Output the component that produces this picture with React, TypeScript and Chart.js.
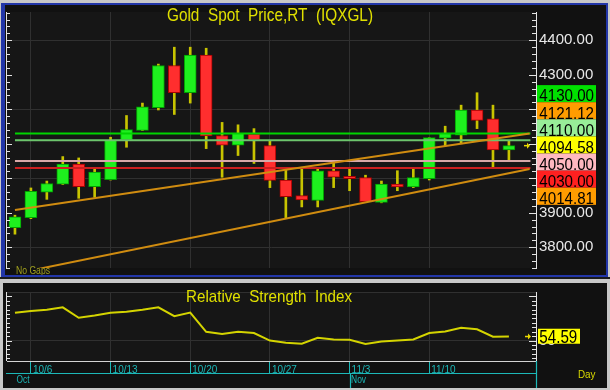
import React, { useEffect, useRef } from 'react';
import { Chart, registerables } from 'chart.js';

Chart.register(...registerables);

// ---------- data ----------
const opens = [3857, 3886, 3960, 3983, 4041, 3976, 3996, 4112, 4139, 4205, 4327, 4248, 4357, 4124, 4096, 4128, 4095, 3995, 3950, 3936, 4022, 4006, 4002, 3930, 3983, 3975, 3999, 4116, 4125, 4198, 4172, 4082];
const highs = [3893, 3972, 3992, 4063, 4059, 4027, 4119, 4182, 4218, 4331, 4380, 4380, 4377, 4162, 4155, 4144, 4110, 4025, 4032, 4030, 4046, 4029, 4009, 3992, 4022, 4029, 4118, 4151, 4212, 4248, 4212, 4110];
const lows = [3838, 3883, 3939, 3982, 3942, 3945, 3995, 4090, 4138, 4198, 4185, 4218, 4086, 4003, 4066, 4043, 3973, 3885, 3917, 3917, 3973, 3964, 3931, 3929, 3964, 3973, 3995, 4094, 4100, 4144, 4032, 4052];
const closes = [3888, 3962, 3985, 4041, 3976, 4018, 4110, 4141, 4207, 4327, 4248, 4357, 4123, 4096, 4130, 4112, 3994, 3947, 3937, 4022, 4003, 3999, 3932, 3983, 3975, 4002, 4118, 4130, 4198, 4168, 4082, 4094.58];
const rsiValues = [81.3, 83.4, 84.7, 87.5, 75.8, 78.2, 81.3, 82.6, 84.7, 87.5, 77.5, 81.6, 59.9, 57.5, 59.9, 58.6, 50.0, 47.5, 46.5, 53.1, 51.3, 51.0, 46.2, 49.0, 50.0, 51.3, 58.6, 60.3, 64.5, 62.7, 54.4, 54.59];

const weekTickIdx = [1, 6, 11, 16, 21, 26];
const weekTickLabels = ['10/6', '10/13', '10/20', '10/27', '11/3', '11/10'];
const monthIdx = [0, 21];
const monthLabels = ['Oct', 'Nov'];

const levelValues = [4130, 4110, 4050, 4030];
const levelColors = ['#00d400', '#6cc46c', '#d8a8a8', '#cc2020'];
const levelSpan = [0, 32.35];

const upperTrendIdx = [0, 32.3];
const upperTrendVals = [3908, 4130.06];
const lowerTrendIdx = [1, 32.3];
const lowerTrendVals = [3732.8, 4027.0];

const tagValues = [4130.0, 4121.12, 4110.0, 4094.58, 4050.0, 4030.0, 4014.81];
const tagColors = ['#00e000', '#ff9c00', '#98ee98', '#ffff00', '#ffb8c0', '#ff2020', '#ff9c00'];

const priceTitle = 'Gold  Spot  Price,RT  (IQXGL)';
const rsiTitle = 'Relative  Strength  Index';
const rsiLast = 54.59;

// ---------- styling ----------
const FONT = '"Liberation Sans", Arial, sans-serif';
const NARROW = '"Liberation Sans Narrow", "Liberation Sans", Arial, sans-serif';
const GRID = '#303030';
const BLUE = '#2236a8';
const FRAME = '#c8c8c8';
const TEAL = '#1cb8b8';
const YELLOW = '#e0e000';
const X_MIN = -0.5;
const X_MAX = 32.7;

function fitText(ctx: CanvasRenderingContext2D, text: string, x: number, baseline: number, width: number, font: string, color: string) {
  ctx.save();
  ctx.font = font;
  const w = ctx.measureText(text).width || 1;
  ctx.translate(x, baseline);
  ctx.scale(width / w, 1);
  ctx.fillStyle = color;
  ctx.textAlign = 'left';
  ctx.textBaseline = 'alphabetic';
  ctx.fillText(text, 0, 0);
  ctx.restore();
}

function drawArrow(ctx: CanvasRenderingContext2D, x: number, y: number, color: string) {
  ctx.save();
  ctx.strokeStyle = color;
  ctx.fillStyle = color;
  ctx.lineWidth = 1.5;
  ctx.beginPath();
  ctx.moveTo(x, y);
  ctx.lineTo(x + 4, y);
  ctx.stroke();
  ctx.beginPath();
  ctx.moveTo(x + 6, y);
  ctx.lineTo(x + 3, y - 3);
  ctx.lineTo(x + 3, y + 3);
  ctx.closePath();
  ctx.fill();
  ctx.restore();
}

function drawSideTicks(ctx: CanvasRenderingContext2D, scale: any, area: any, majorStep: number) {
  ctx.save();
  ctx.strokeStyle = '#e4e4e4';
  ctx.lineWidth = 1;
  ctx.beginPath();
  ctx.moveTo(6.5, area.top);
  ctx.lineTo(6.5, area.bottom);
  scale.ticks.forEach((t: any) => {
    const py = Math.round(scale.getPixelForValue(t.value)) + 0.5;
    const major = Math.abs(t.value % majorStep) < 1e-6;
    ctx.moveTo(6, py);
    ctx.lineTo(major ? 12 : 10, py);
    ctx.moveTo(area.right, py);
    ctx.lineTo(area.right - (major ? 7 : 4), py);
  });
  ctx.stroke();
  ctx.restore();
}

const mainDeco = {
  id: 'mainDeco',
  beforeDraw(chart: any) {
    const { ctx, chartArea: a, width, height } = chart;
    ctx.save();
    ctx.fillStyle = '#111111';
    ctx.fillRect(0, 0, width, height);
    ctx.fillStyle = '#161616';
    ctx.fillRect(a.left, a.top, a.right - a.left, a.bottom - a.top);
    ctx.restore();
  },
  afterDraw(chart: any) {
    const { ctx, chartArea: a } = chart;
    const y = chart.scales.y;
    drawSideTicks(ctx, y, a, 100);
    fitText(ctx, priceTitle, 167, 21, 206, `18px ${FONT}`, YELLOW);
    fitText(ctx, 'No Gaps', 16, 274, 34, `10px ${FONT}`, '#a0a020');
    const lp = y.getPixelForValue(closes[closes.length - 1]);
    drawArrow(ctx, 524, lp, '#e8d800');
    const tagH = 17.1;
    const top0 = lp - (tagH * tagValues.length) / 2 - 0.7;
    ctx.save();
    tagValues.forEach((v, i) => {
      const ty = top0 + i * tagH;
      ctx.fillStyle = tagColors[i];
      ctx.fillRect(537, ty, 59, tagH);
      fitText(ctx, v.toFixed(2), 539.3, ty + 16.3, 54.7, `17px ${FONT}`, '#000000');
    });
    ctx.restore();
    // window frame
    ctx.save();
    ctx.fillStyle = FRAME;
    ctx.fillRect(0, 0, 610, 3);
    ctx.fillRect(608, 0, 2, 280);
    ctx.fillRect(0, 0, 1, 280);
    ctx.fillStyle = BLUE;
    ctx.fillRect(1, 3, 607, 2);
    ctx.fillRect(1, 3, 4, 274);
    ctx.fillRect(606, 3, 2, 274);
    ctx.fillRect(1, 275, 607, 2);
    ctx.fillStyle = '#1a1a1a';
    ctx.fillRect(0, 277, 610, 2);
    ctx.fillStyle = FRAME;
    ctx.fillRect(0, 279, 610, 1);
    ctx.restore();
  },
};

const rsiDeco = {
  id: 'rsiDeco',
  beforeDraw(chart: any) {
    const { ctx, chartArea: a, width, height } = chart;
    ctx.save();
    ctx.fillStyle = '#111111';
    ctx.fillRect(0, 0, width, height);
    ctx.fillStyle = '#161616';
    ctx.fillRect(a.left, a.top, a.right - a.left, a.bottom - a.top);
    ctx.strokeStyle = GRID;
    ctx.lineWidth = 1;
    ctx.beginPath();
    ctx.moveTo(a.left, a.top + 0.5);
    ctx.lineTo(a.right, a.top + 0.5);
    ctx.stroke();
    ctx.restore();
  },
  afterDraw(chart: any) {
    const { ctx, chartArea: a } = chart;
    const y = chart.scales.y;
    const x = chart.scales.x;
    drawSideTicks(ctx, y, a, 50);
    fitText(ctx, rsiTitle, 186, 22, 166, `17px ${FONT}`, YELLOW);
    const lp = y.getPixelForValue(rsiLast);
    drawArrow(ctx, 525, lp, '#e8d800');
    ctx.save();
    ctx.fillStyle = '#ffff00';
    ctx.fillRect(538, lp - 7.8, 42, 15);
    ctx.restore();
    fitText(ctx, rsiLast.toFixed(2), 539.3, lp + 6.2, 38, `18px ${FONT}`, '#000000');

    // date axis decorations
    ctx.save();
    ctx.strokeStyle = TEAL;
    ctx.lineWidth = 1.2;
    ctx.beginPath();
    ctx.moveTo(6, 93.5);
    ctx.lineTo(a.right, 93.5);
    ctx.moveTo(a.right + 0.5, a.bottom);
    ctx.lineTo(a.right + 0.5, 108);
    monthIdx.forEach((m) => {
      if (m > 0) {
        const px = Math.round(x.getPixelForValue(m)) + 0.5;
        ctx.moveTo(px, 93);
        ctx.lineTo(px, 108);
      }
    });
    ctx.stroke();
    ctx.restore();
    monthIdx.forEach((m, i) => {
      const px = x.getPixelForValue(m);
      fitText(ctx, monthLabels[i], px + 1.5, 103, monthLabels[i] === 'Oct' ? 13 : 15, `10px ${FONT}`, TEAL);
    });
    fitText(ctx, 'Day', 578, 98, 17.5, `11px ${FONT}`, '#d8d800');

    // frame
    ctx.save();
    ctx.fillStyle = FRAME;
    ctx.fillRect(0, 0, 610, 3);
    ctx.fillRect(0, 0, 3, 110);
    ctx.fillRect(607, 0, 3, 110);
    ctx.fillRect(0, 108, 610, 2);
    ctx.restore();
  },
};

export default function App() {
  const mainRef = useRef<HTMLCanvasElement | null>(null);
  const rsiRef = useRef<HTMLCanvasElement | null>(null);

  useEffect(() => {
    if (!mainRef.current || !rsiRef.current) return;
    const up = closes.map((c, i) => c >= opens[i]);

    const main = new Chart(mainRef.current, {
      type: 'bar',
      data: {
        datasets: [
          {
            type: 'bar',
            label: 'wick',
            data: highs.map((h, i) => ({ x: i, y: [lows[i], h] })) as any,
            backgroundColor: '#c8c400',
            borderWidth: 0,
            barThickness: 2,
            grouped: false,
            order: 3,
          } as any,
          {
            type: 'bar',
            label: 'body',
            data: opens.map((o, i) => ({ x: i, y: [o, closes[i]] })) as any,
            backgroundColor: up.map((u) => (u ? '#1ef01e' : '#ff2e2e')),
            borderColor: up.map((u) => (u ? '#00a000' : '#a80000')),
            borderWidth: 1,
            borderSkipped: false,
            barThickness: 12,
            grouped: false,
            order: 2,
          } as any,
          ...levelValues.map((v, i) => ({
            type: 'line',
            label: 'level ' + v,
            data: levelSpan.map((sx) => ({ x: sx, y: v })),
            borderColor: levelColors[i],
            borderWidth: 2,
            pointRadius: 0,
            order: 1,
          })),
          {
            type: 'line',
            label: 'upper trend',
            data: upperTrendIdx.map((sx, i) => ({ x: sx, y: upperTrendVals[i] })),
            borderColor: '#d08c10',
            borderWidth: 2,
            pointRadius: 0,
            order: 0,
          },
          {
            type: 'line',
            label: 'lower trend',
            data: lowerTrendIdx.map((sx, i) => ({ x: sx, y: lowerTrendVals[i] })),
            borderColor: '#d08c10',
            borderWidth: 2,
            pointRadius: 0,
            order: 0,
          },
        ] as any,
      },
      options: {
        animation: false,
        responsive: false,
        devicePixelRatio: 1,
        layout: { padding: { left: 7, top: 5, right: 0, bottom: 5 } },
        plugins: { legend: { display: false }, tooltip: { enabled: false } },
        scales: {
          x: {
            type: 'linear',
            min: X_MIN,
            max: X_MAX,
            offset: false,
            afterBuildTicks: (s: any) => {
              s.ticks = weekTickIdx.map((v) => ({ value: v }));
            },
            ticks: { display: false },
            grid: { color: GRID, drawTicks: false, lineWidth: 1, offset: false },
            border: { display: false },
            afterFit: (s: any) => {
              s.height = 0;
            },
          },
          y: {
            type: 'linear',
            position: 'right',
            min: 3740,
            max: 4482,
            afterBuildTicks: (s: any) => {
              const t = [];
              for (let v = 3740; v <= 4480; v += 20) t.push({ value: v });
              s.ticks = t;
            },
            ticks: {
              autoSkip: false,
              color: '#e8e8e8',
              padding: 3,
              font: { family: FONT, size: 15 },
              callback: (v: any) => (Number(v) % 100 === 0 ? Number(v).toFixed(2) : ''),
            },
            grid: {
              color: (c: any) => (c.tick && c.tick.value % 200 === 0 ? GRID : 'rgba(0,0,0,0)'),
              drawTicks: false,
              lineWidth: 1,
            },
            border: { display: true, color: '#e4e4e4', width: 1 },
            afterFit: (s: any) => {
              s.width = 74;
            },
          },
        },
      } as any,
      plugins: [mainDeco],
    });

    const rsi = new Chart(rsiRef.current, {
      type: 'line',
      data: {
        datasets: [
          {
            label: 'RSI',
            data: rsiValues.map((v, i) => ({ x: i, y: v })),
            borderColor: '#d4d400',
            borderWidth: 2,
            pointRadius: 0,
            tension: 0,
          },
        ],
      },
      options: {
        animation: false,
        responsive: false,
        devicePixelRatio: 1,
        layout: { padding: { left: 7, top: 5, right: 0, bottom: 1 } },
        plugins: { legend: { display: false }, tooltip: { enabled: false } },
        scales: {
          x: {
            type: 'linear',
            min: X_MIN,
            max: X_MAX,
            offset: false,
            afterBuildTicks: (s: any) => {
              s.ticks = weekTickIdx.map((v) => ({ value: v }));
            },
            ticks: {
              autoSkip: false,
              maxRotation: 0,
              align: 'start',
              labelOffset: 2,
              padding: -9,
              color: TEAL,
              font: { family: NARROW, size: 10 },
              callback: (_v: any, i: number) => weekTickLabels[i],
            },
            grid: { color: GRID, tickColor: TEAL, tickLength: 12, lineWidth: 1 },
            border: { display: true, color: '#d4d4d4', width: 1 },
            afterFit: (s: any) => {
              s.height = 28;
            },
          },
          y: {
            type: 'linear',
            position: 'right',
            min: 27,
            max: 104.8,
            afterBuildTicks: (s: any) => {
              const t = [];
              for (let v = 30; v <= 100; v += 5) t.push({ value: v });
              s.ticks = t;
            },
            ticks: {
              autoSkip: false,
              color: '#e8e8e8',
              padding: 3,
              font: { family: FONT, size: 15 },
              callback: (v: any) => (Number(v) === 50 ? '50' : ''),
            },
            grid: {
              color: (c: any) => (c.tick && c.tick.value === 50 ? GRID : 'rgba(0,0,0,0)'),
              drawTicks: false,
              lineWidth: 1,
            },
            border: { display: true, color: '#e4e4e4', width: 1 },
            afterFit: (s: any) => {
              s.width = 74;
            },
          },
        },
      } as any,
      plugins: [rsiDeco],
    });

    return () => {
      main.destroy();
      rsi.destroy();
    };
  }, []);

  return (
    <div style={{ position: 'fixed', left: 0, top: 0, width: 610, height: 390, background: FRAME, overflow: 'hidden' }}>
      <canvas ref={mainRef} width={610} height={280} style={{ position: 'absolute', left: 0, top: 0, width: 610, height: 280, display: 'block' }} />
      <canvas ref={rsiRef} width={610} height={110} style={{ position: 'absolute', left: 0, top: 280, width: 610, height: 110, display: 'block' }} />
    </div>
  );
}
